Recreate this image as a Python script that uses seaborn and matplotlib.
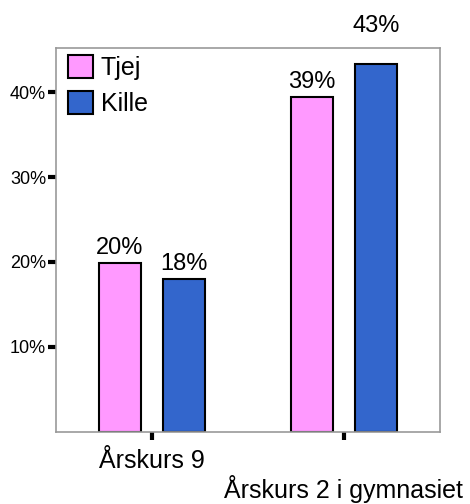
import seaborn as sns
import matplotlib.pyplot as plt
import pandas as pd

# data
grupper = ["Årskurs 9", "Årskurs 2 i gymnasiet"]
tjej = [0.199, 0.394]
kille = [0.180, 0.433]
serier = ["Tjej", "Kille"]
yticks = [0.1, 0.2, 0.3, 0.4]

df = pd.DataFrame({
    "grupp": grupper * 2,
    "kon": ["Tjej"] * 2 + ["Kille"] * 2,
    "andel": tjej + kille,
})

sns.set_style("white")
plt.rcParams["font.family"] = ["Liberation Sans", "DejaVu Sans"]
plt.rcParams["text.color"] = "black"
plt.rcParams["xtick.color"] = "black"
plt.rcParams["ytick.color"] = "black"

fig = plt.figure(figsize=(4.7, 5.04), dpi=100)
ax = fig.add_axes([0.119, 0.143, 0.817, 0.762])

sns.barplot(data=df, x="grupp", y="andel", hue="kon", order=grupper, hue_order=serier,
            palette=["#FF99FF", "#3366CC"], width=0.667, gap=0.34, saturation=1,
            edgecolor="black", linewidth=1.5, ax=ax)

ax.set_xlim(-0.5, 1.5)
ax.set_ylim(0, 0.452)
ax.set_xlabel("")
ax.set_ylabel("")
ax.set_yticks(yticks)
ax.set_yticklabels([f"{int(round(v * 100))}%" for v in yticks], fontsize=13)
ax.set_xticks([0, 1])
ax.set_xticklabels(grupper, fontsize=18)
ax.tick_params(axis="both", direction="out", length=6, width=3, color="black",
               labelcolor="black", bottom=True, left=True)
ax.tick_params(axis="y", pad=1)
ax.tick_params(axis="x", pad=6)
ax.xaxis.get_major_ticks()[1].set_pad(25)

for s in ax.spines.values():
    s.set_color("#999999")
    s.set_linewidth(1.2)

# data labels (Tjej bars first, then Kille)
offs = [6.5, 6.5, 6.5, 23]
bars = [b for cont in ax.containers for b in cont]
vals = tjej + kille
for i, (b, v) in enumerate(zip(bars, vals)):
    ax.annotate(f"{int(round(v * 100))}%", (b.get_x() + b.get_width() / 2, b.get_height()),
                xytext=(0, offs[i]), textcoords="offset points", ha="center", va="baseline",
                fontsize=17, color="black", annotation_clip=False)

ax.legend(loc="upper left", bbox_to_anchor=(0.012, 1.0), frameon=False, fontsize=18,
          handlelength=1.0, handleheight=1.0, handletextpad=0.3, labelspacing=0.45,
          borderaxespad=0.05, borderpad=0.25)

fig.savefig("out.png", dpi=100)
